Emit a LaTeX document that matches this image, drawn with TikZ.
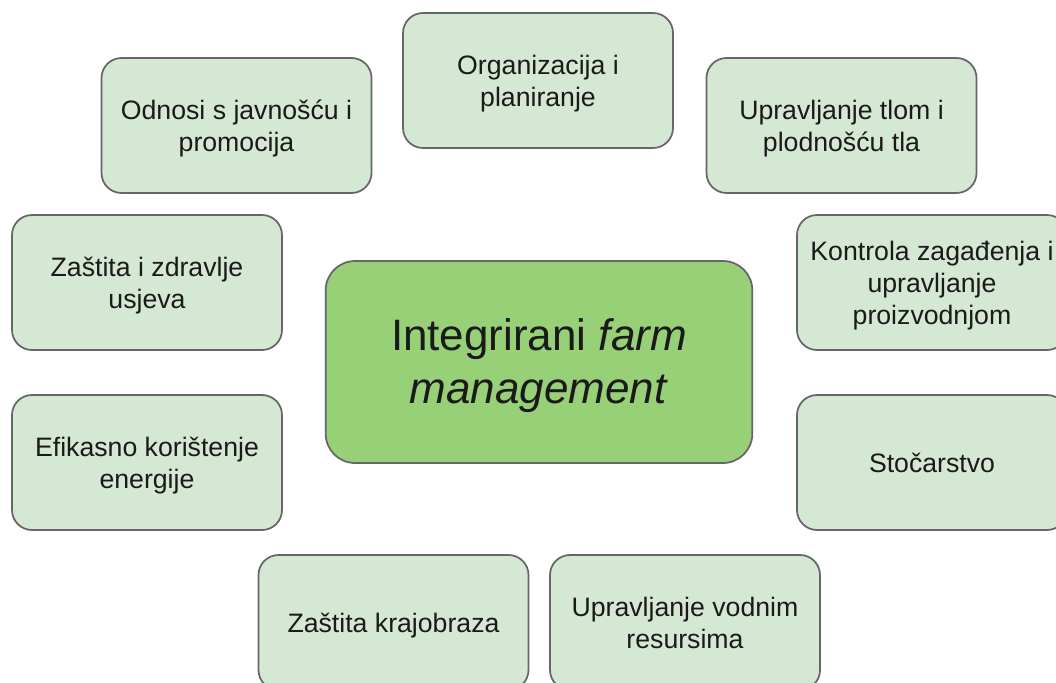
\documentclass[tikz,border=0pt]{standalone}
\usepackage{fontspec}
\setmainfont{Liberation Sans}
\definecolor{boxfill}{HTML}{D5E8D4}
\definecolor{mainfill}{HTML}{97D077}
\definecolor{boxline}{HTML}{666666}
\definecolor{txt}{HTML}{1A1A1A}
\newcommand\lowtext[2]{\raisebox{-#1}[\height][\depth]{\begin{tabular}{@{}c@{}}#2\end{tabular}}}
\tikzset{
  topic/.style={draw=boxline, line width=1.3pt, fill=boxfill, rounded corners=15pt,
    minimum width=202.5pt, minimum height=101.25pt, inner sep=0pt,
    text=txt, font=\fontsize{20}{24}\selectfont},
  hub/.style={draw=boxline, line width=1.3pt, fill=mainfill, rounded corners=22pt,
    minimum width=320pt, minimum height=151.5pt, inner sep=0pt,
    text=txt, font=\fontsize{33}{40}\selectfont}
}
\begin{document}
\begin{tikzpicture}[x=0.75pt,y=-0.75pt]
\useasboundingbox (0,0) rectangle (1056,682);
\fill[white] (0,0) rectangle (1056,682);
\node[hub] (hub) at (539,362) {\lowtext{3pt}{Integrirani \textit{farm}\\\textit{management}}};
\node[topic] (org) at (538,80.5) {\lowtext{3pt}{Organizacija i\\planiranje}};
\node[topic] (odnosi) at (236.5,125.5) {\lowtext{3pt}{Odnosi s javnošću i\\promocija}};
\node[topic] (tlo) at (841.5,125.5) {\lowtext{3pt}{Upravljanje tlom i\\plodnošću tla}};
\node[topic] (zastita) at (147,282.5) {\lowtext{3pt}{Zaštita i zdravlje\\usjeva}};
\node[topic] (kontrola) at (932,282.5) {\lowtext{2.5pt}{Kontrola zagađenja i\\upravljanje\\proizvodnjom}};
\node[topic] (energ) at (147,462.5) {\lowtext{3pt}{Efikasno korištenje\\energije}};
\node[topic] (stoc) at (932,462.5) {\lowtext{3pt}{Stočarstvo}};
\node[topic] (kraj) at (393.5,622.5) {\lowtext{3pt}{Zaštita krajobraza}};
\node[topic] (voda) at (685,622.5) {\lowtext{3pt}{Upravljanje vodnim\\resursima}};
\end{tikzpicture}
\end{document}
